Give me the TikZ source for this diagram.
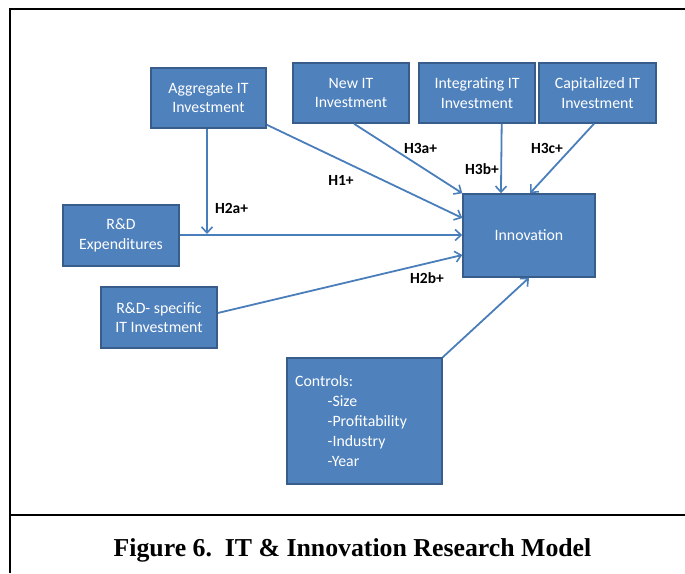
\documentclass[tikz,border=0pt]{standalone}
\usepackage{fontspec}
\setmainfont{Carlito}
\newfontfamily\capfont{Liberation Serif}
\usetikzlibrary{arrows.meta,calc}
\definecolor{boxfill}{HTML}{4F81BD}
\definecolor{boxline}{HTML}{385D8A}
\definecolor{linkc}{HTML}{4A7EBB}
\begin{document}
\begin{tikzpicture}[x=1pt,y=-1pt,
  varbox/.style={draw=boxline,fill=boxfill,line width=1.5pt,text=white,
    inner sep=0pt,align=center,font=\fontsize{15.8}{19.5}\selectfont},
  link/.style={draw=linkc,line width=1.8pt,
    -{Straight Barb[length=6pt,width=11pt,line width=1.6pt]}},
  hyp/.style={font=\fontsize{15.5}{18}\selectfont\bfseries,inner sep=0pt}]
\useasboundingbox (0,0) rectangle (685,573);
% frame and caption rule
\draw[line width=2.2pt] (10,573) -- (10,9) -- (685,9);
\draw[line width=2.2pt] (10,515) -- (685,515);
\node[font=\capfont\bfseries\fontsize{25.8}{30}\selectfont,anchor=base,inner sep=0pt]
  (cap) at (352.5,556) {Figure 6.\hspace{0.5em}IT \& Innovation Research Model};
% variables
\node[varbox,minimum width=115pt,minimum height=60pt] (agg)   at (208.5,98)  {Aggregate IT\\Investment};
\node[varbox,minimum width=116pt,minimum height=60pt] (newit) at (351,93)    {New IT\\Investment};
\node[varbox,minimum width=116pt,minimum height=60pt] (integ) at (477,93)    {Integrating IT\\Investment};
\node[varbox,minimum width=117pt,minimum height=60pt] (capit) at (597.5,93)  {Capitalized IT\\Investment};
\node[varbox,minimum width=132pt,minimum height=83pt] (innov) at (529,235.5) {Innovation};
\node[varbox,minimum width=116pt,minimum height=61pt] (rnd)   at (121,235.5) {R\&D\\Expenditures};
\node[varbox,minimum width=116pt,minimum height=61pt] (rndit) at (159,317.5) {R\&D- specific\\IT Investment};
\node[varbox,minimum width=155pt,minimum height=126pt] (ctrl) at (364.5,421) {};
\node[anchor=north west,inner sep=0pt,text=white,font=\fontsize{15.8}{20}\selectfont,align=left]
  (ctrltxt) at (295,375.5) {Controls:\\\hspace{32.5pt}-Size\\\hspace{32.5pt}-Profitability\\\hspace{32.5pt}-Industry\\\hspace{32.5pt}-Year};
% paths
\coordinate (aggtip) at ($(agg.south)+(-1.5,0)$);
\coordinate (h2atip) at (aggtip |- rnd.east);
\draw[link] ($(agg.south east)+(0,-4)$) -- ($(innov.west)+(0,-17.5)$);
\draw[link] ($(newit.south)+(3,0)$) -- (innov.north west);
\draw[link] ($(integ.south)+(24.7,0)$) -- ($(innov.north west)+(38.7,0)$);
\draw[link] ($(capit.south)+(-3.5,0)$) -- ($(innov.north)+(1,0)$);
\draw[link] ($(rnd.east)+(0,-0.5)$) -- ($(innov.west)+(0,-0.5)$);
\draw[link,shorten >=1.5pt] (aggtip) -- (h2atip);
\draw[link] ($(rndit.east)+(0,-4.5)$) -- ($(innov.west)+(0,19.5)$);
\draw[link] (ctrl.north east) -- (innov.south);
% hypothesis labels
\node[hyp] (h1)  at (341,180)   {H1+};
\node[hyp] (h3a) at (420.5,148) {H3a+};
\node[hyp] (h3b) at (482,169)   {H3b+};
\node[hyp] (h3c) at (547,148)   {H3c+};
\node[hyp] (h2a) at (231.5,208.5) {H2a+};
\node[hyp] (h2b) at (427,278.5) {H2b+};
\end{tikzpicture}
\end{document}
